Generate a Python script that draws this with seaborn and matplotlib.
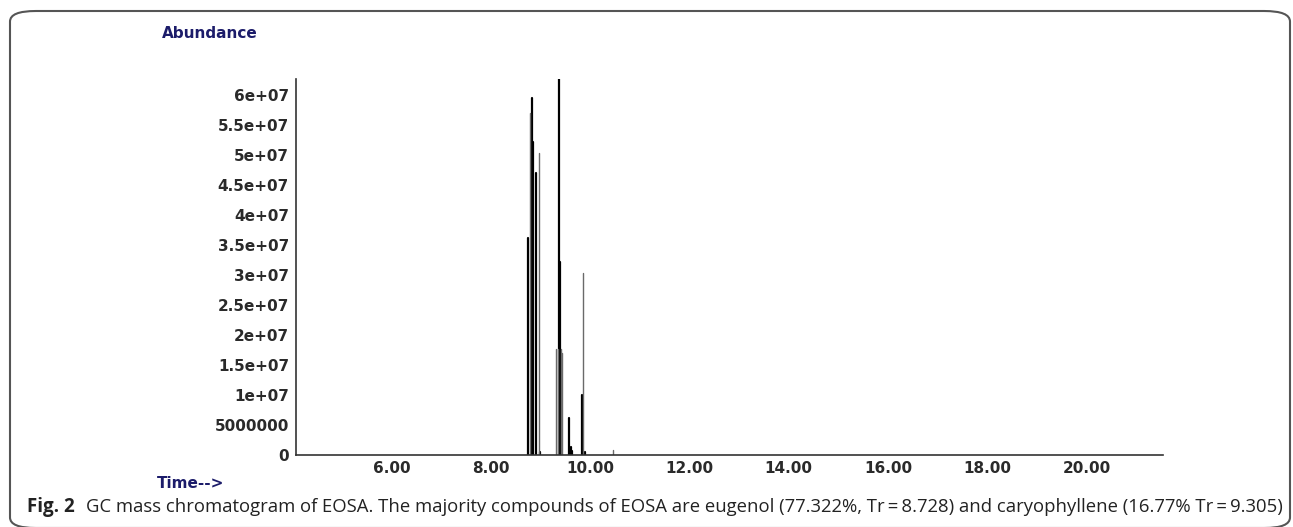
import numpy as np
import pandas as pd
import matplotlib
matplotlib.use("Agg")
import matplotlib.pyplot as plt
import seaborn as sns
from matplotlib.patches import FancyBboxPatch
from matplotlib.ticker import MultipleLocator, FixedLocator

# ---- data (retention time in min, abundance) ----
# each entry is one vertical stroke of the trace, drawn from the baseline
peak_times = [8.748, 8.792, 8.817, 8.853, 8.903, 8.970, 8.990,
              9.317, 9.347, 9.367, 9.397, 9.417, 9.437,
              9.575, 9.609, 9.639, 9.825, 9.857, 9.891, 10.462]
peak_heights = [3.62e7, 5.70e7, 5.95e7, 5.22e7, 4.70e7, 5.03e7, 0.5e6,
                1.77e7, 1.77e7, 6.28e7, 3.22e7, 1.77e7, 1.7e7,
                6.2e6, 1.4e6, 0.6e6, 1.0e7, 3.03e7, 0.5e6, 0.8e6]
# dark = heavy black stroke, light = thin grey stroke
peak_shade = ["dark", "light", "dark", "dark", "dark", "light", "dark",
              "light", "light", "dark", "dark", "light", "light",
              "dark", "dark", "dark", "dark", "light", "dark", "light"]

x_ticks = [6, 8, 10, 12, 14, 16, 18, 20]
x_labels = ["6.00", "8.00", "10.00", "12.00", "14.00", "16.00", "18.00", "20.00"]
y_ticks = [0, 5e6, 1e7, 1.5e7, 2e7, 2.5e7, 3e7, 3.5e7, 4e7, 4.5e7, 5e7, 5.5e7, 6e7]
y_labels = ["0", "5000000", "1e+07", "1.5e+07", "2e+07", "2.5e+07", "3e+07",
            "3.5e+07", "4e+07", "4.5e+07", "5e+07", "5.5e+07", "6e+07"]

caption_bold = "Fig. 2"
caption_text = ("GC mass chromatogram of EOSA. The majority compounds of EOSA are eugenol "
                "(77.322%, Tr\u2009=\u20098.728) and caryophyllene (16.77% Tr\u2009=\u20099.305)")

# one short line (baseline -> top) per stroke
rows = []
for i, (t, h, s) in enumerate(zip(peak_times, peak_heights, peak_shade)):
    rows.append({"stroke": i, "time": t, "abundance": 0.0, "shade": s})
    rows.append({"stroke": i, "time": t, "abundance": h, "shade": s})
trace = pd.DataFrame(rows)

sns.set_style("white")
plt.rcParams["font.family"] = ["DejaVu Sans"]

fig = plt.figure(figsize=(12.93, 5.27), dpi=100)
ax = fig.add_axes([0.2289, 0.1366, 0.6705, 0.7135])

sns.lineplot(data=trace, x="time", y="abundance", units="stroke", estimator=None,
             hue="shade", palette={"dark": "black", "light": "#6a6a6a"},
             size="shade", sizes={"dark": 1.6, "light": 1.0},
             sort=False, legend=False, ax=ax)

ax.set_xlim(4.07, 21.54)
ax.set_ylim(0, 6.27e7)
ax.set_xlabel("")
ax.set_ylabel("")

tick_font = dict(fontsize=11, fontweight="bold", color="#2a2a2a")
ax.xaxis.set_major_locator(FixedLocator(x_ticks))
ax.set_xticklabels(x_labels, **tick_font)
ax.xaxis.set_minor_locator(MultipleLocator(0.4))
ax.yaxis.set_major_locator(FixedLocator(y_ticks))
ax.set_yticklabels(y_labels, **tick_font)
ax.yaxis.set_minor_locator(MultipleLocator(5e5))

ax.tick_params(axis="x", which="both", direction="out", length=3, width=1,
               colors="#333333", pad=1, labelcolor="#2a2a2a")
ax.tick_params(axis="y", which="major", direction="out", length=3, width=1,
               colors="#333333", pad=2, labelcolor="#2a2a2a")
ax.tick_params(axis="y", which="minor", direction="out", length=1.5, width=1,
               colors="#333333")

sns.despine(ax=ax, top=True, right=True)
for side in ["left", "bottom"]:
    ax.spines[side].set_color("#333333")
    ax.spines[side].set_linewidth(1.2)

# axis captions in navy, ChemStation style
fig.text(210 / 1293, 1 - 34 / 527, "Abundance", fontsize=11, fontweight="bold",
         color="#1c1c6a", ha="center", va="center")
fig.text(191 / 1293, 1 - 484 / 527, "Time-->", fontsize=11, fontweight="bold",
         color="#1c1c6a", ha="center", va="center")

# figure caption
cap_family = ["Open Sans", "DejaVu Sans"]
fig.text(27 / 1293, 1 - 507 / 527, caption_bold, fontsize=13.5, fontweight="bold",
         family=cap_family, color="#222222", ha="left", va="center")
fig.text(86 / 1293, 1 - 507 / 527, caption_text, fontsize=13.3,
         family=cap_family, color="#222222", ha="left", va="center")

# rounded frame around the panel
frame = FancyBboxPatch((10 / 1293, 1 - 528 / 527), 1280 / 1293, 517 / 527,
                       boxstyle="round,pad=0,rounding_size=0.02",
                       transform=fig.transFigure, fill=False,
                       edgecolor="#555555", linewidth=1.5)
fig.patches.append(frame)

fig.savefig("out.png", dpi=100)
plt.close(fig)
